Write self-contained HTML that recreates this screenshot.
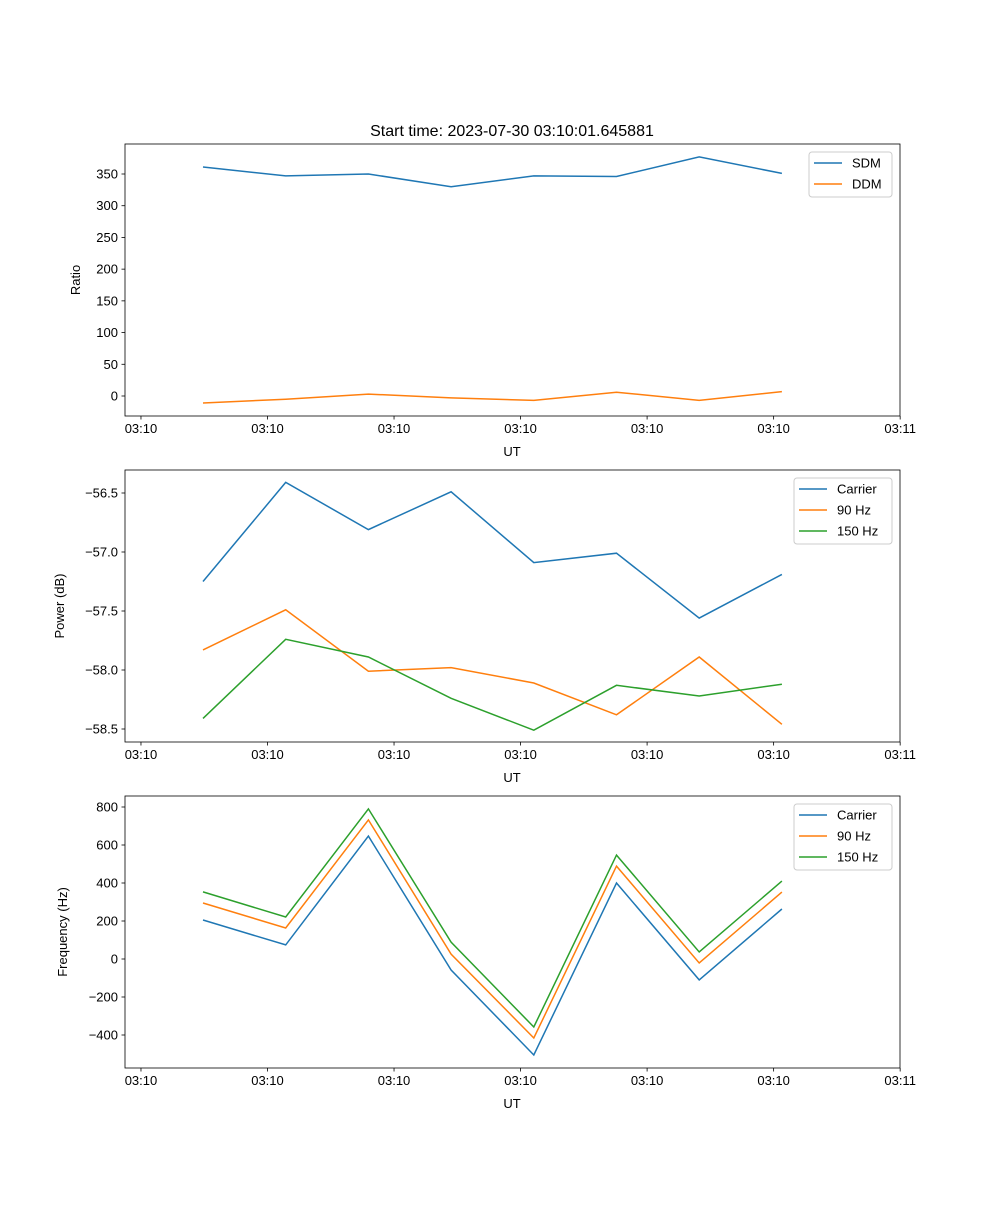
<!DOCTYPE html>
<html><head><meta charset="utf-8"><style>
body{margin:0;background:#fff;}
svg{font-family:"Liberation Sans","DejaVu Sans",sans-serif;}
</style></head><body>
<svg id="fig" width="1000" height="1200"></svg>
<script>
const categories = [0,1,2,3,4,5,6,7];
const xTickValues = [-0.75,0.78,2.31,3.84,5.37,6.9,8.43];
const xTickLabels = ["03:10","03:10","03:10","03:10","03:10","03:10","03:11"];
const sdm = [361,347,350,330,347,346,377,351];
const ddm = [-11,-5,3,-3,-7,6,-7,7];
const powCarrier = [-57.25,-56.41,-56.81,-56.49,-57.09,-57.01,-57.56,-57.19];
const pow90 = [-57.83,-57.49,-58.01,-57.98,-58.11,-58.38,-57.89,-58.46];
const pow150 = [-58.41,-57.74,-57.89,-58.24,-58.51,-58.13,-58.22,-58.12];
const freqCarrier = [205,74,647,-58,-505,400,-110,263];
const freq90 = [295,163,732,26,-416,489,-21,352];
const freq150 = [353,221,790,89,-358,547,37,410];
const ratioTicks = [0,50,100,150,200,250,300,350];
const powerTicks = [-58.5,-58.0,-57.5,-57.0,-56.5];
const powerTickLabels = ["\u221258.5","\u221258.0","\u221257.5","\u221257.0","\u221256.5"];
const freqTicks = [-400,-200,0,200,400,600,800];
const freqTickLabels = ["\u2212400","\u2212200","0","200","400","600","800"];

const NS="http://www.w3.org/2000/svg";
const svg=document.getElementById('fig');
function mk(tag,attrs,parent,name){const e=document.createElementNS(NS,tag);for(const k in attrs)e.setAttribute(k,attrs[k]);


(parent||svg).appendChild(e);return e;}
const L=125,R=900;
const xs=i=>203+(i)*82.7;
function panel(p){
  const g=mk('g',{},svg,p.name);
  const ys=v=>p.y0px+(v-p.v0)*(p.y1px-p.y0px)/(p.v1-p.v0);
  // series
  p.series.forEach(s=>{
    const d=s.vals.map((v,i)=>(i?'L':'M')+xs(categories[i]).toFixed(1)+' '+ys(v).toFixed(1)).join(' ');
    mk('path',{d:d,fill:'none',stroke:s.color,'stroke-width':1.5},g,s.id);
  });
  mk('rect',{x:L,y:p.top,width:R-L,height:p.bot-p.top,fill:'none',stroke:'#000','stroke-width':0.8},g,'axes-frame');
  xTickValues.forEach((t,i)=>{const x=xs(t);
    mk('line',{x1:x,x2:x,y1:p.bot,y2:p.bot+3.5,stroke:'#000','stroke-width':0.8},g,'x-tick');
    const tx=mk('text',{x:x,y:p.bot+17,'font-size':13,'text-anchor':'middle'},g,'x-tick-label');tx.textContent=xTickLabels[i];});
  const xl=mk('text',{x:512,y:p.bot+40,'font-size':13,'text-anchor':'middle'},g,'x-axis-title');xl.textContent='UT';
  p.ticks.forEach((t,i)=>{const y=ys(t);
    mk('line',{x1:L,x2:L-3.5,y1:y,y2:y,stroke:'#000','stroke-width':0.8},g,'y-tick');
    const tx=mk('text',{x:L-7,y:y+4.5,'font-size':13,'text-anchor':'end'},g,'y-tick-label');tx.textContent=p.tickLabels?p.tickLabels[i]:String(t);});
  const yl=mk('text',{x:0,y:0,'font-size':13,'text-anchor':'middle',transform:`translate(${p.ylx},${(p.top+p.bot)/2}) rotate(-90)`},g,'y-axis-title');yl.textContent=p.ylabel;
  // legend
  const lg=mk('g',{},g,'legend');
  const lh=21, lw=p.legW, lx=R-8-lw, ly=p.top+8;
  mk('rect',{x:lx,y:ly,width:lw,height:p.series.length*lh+3,rx:3,fill:'#fff',stroke:'#ccc','stroke-width':1},lg,'legend-box');
  p.series.forEach((s,i)=>{const yy=ly+11+i*lh;
    mk('line',{x1:lx+5,x2:lx+33,y1:yy,y2:yy,stroke:s.color,'stroke-width':1.5},lg,'legend-swatch');
    const t=mk('text',{x:lx+43,y:yy+4.5,'font-size':13},lg,'legend-entry');t.textContent=s.label;});
}
const title=mk('text',{x:512,y:136,'font-size':16,'text-anchor':'middle'},svg,'chart-title');title.textContent='Start time: 2023-07-30 03:10:01.645881';
panel({name:'ratio-panel',top:144,bot:416,v0:0,v1:350,y0px:396,y1px:174,ticks:ratioTicks,ylabel:'Ratio',ylx:80,legW:83,
 series:[{id:'sdm-line',vals:sdm,color:'#1f77b4',label:'SDM'},{id:'ddm-line',vals:ddm,color:'#ff7f0e',label:'DDM'}]});
panel({name:'power-panel',top:470,bot:742,v0:-58.5,v1:-56.5,y0px:729,y1px:493,ticks:powerTicks,tickLabels:powerTickLabels,ylabel:'Power (dB)',ylx:64,legW:98,
 series:[{id:'power-carrier-line',vals:powCarrier,color:'#1f77b4',label:'Carrier'},{id:'power-90hz-line',vals:pow90,color:'#ff7f0e',label:'90 Hz'},{id:'power-150hz-line',vals:pow150,color:'#2ca02c',label:'150 Hz'}]});
panel({name:'frequency-panel',top:796,bot:1068,v0:-400,v1:800,y0px:1035,y1px:807,ticks:freqTicks,tickLabels:freqTickLabels,ylabel:'Frequency (Hz)',ylx:67,legW:98,
 series:[{id:'freq-carrier-line',vals:freqCarrier,color:'#1f77b4',label:'Carrier'},{id:'freq-90hz-line',vals:freq90,color:'#ff7f0e',label:'90 Hz'},{id:'freq-150hz-line',vals:freq150,color:'#2ca02c',label:'150 Hz'}]});
</script>
</body></html>
